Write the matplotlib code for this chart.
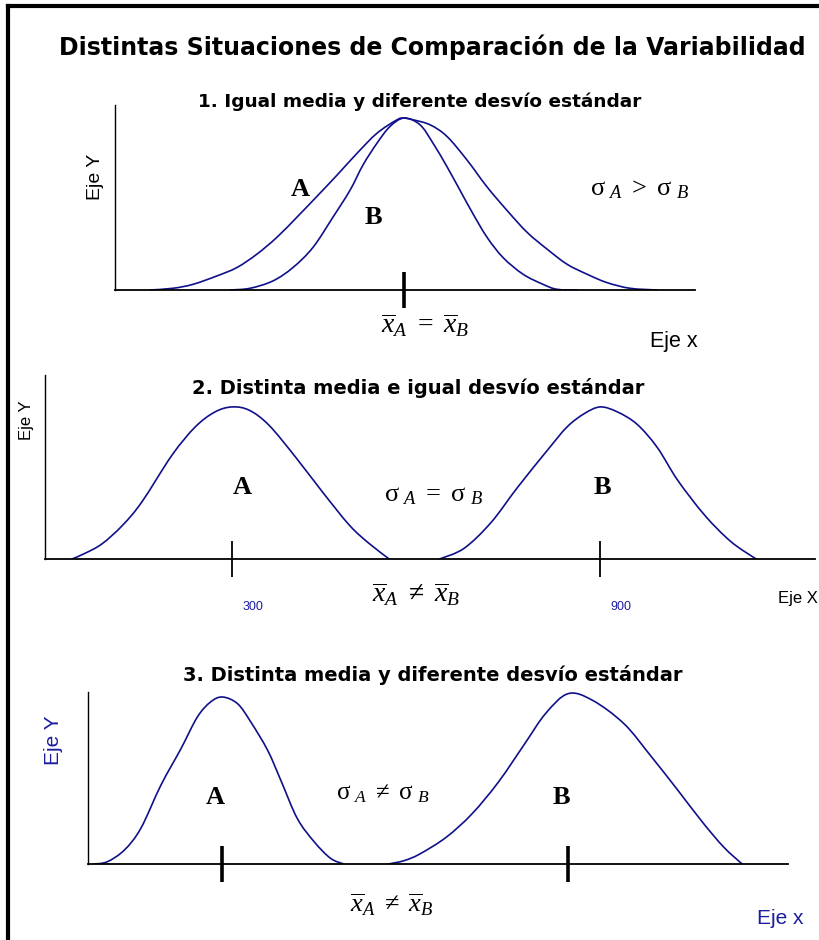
import matplotlib.pyplot as plt
from matplotlib.lines import Line2D
from matplotlib.path import Path
from matplotlib.patches import PathPatch
from matplotlib.transforms import ScaledTranslation

plt.rcParams['mathtext.fontset'] = 'custom'
plt.rcParams['mathtext.rm'] = 'Liberation Serif'
plt.rcParams['mathtext.it'] = 'Liberation Serif:italic'
plt.rcParams['mathtext.bf'] = 'Liberation Serif:bold'

W, H = 819, 940
NAVY = '#10108a'
BLUE = '#1c1ca0'

# 1. same mean, different spread
x1_a = [246, 269, 289, 313, 333, 353, 373, 393, 413, 433, 453, 473, 493, 500,
        509, 526, 543, 563, 583, 603, 623, 643, 663, 683, 703, 726, 753]
y1_a = [0.0, 0.01, 0.033, 0.082, 0.131, 0.209, 0.307, 0.424, 0.545, 0.668, 0.795,
        0.912, 0.99, 1.0, 0.99, 0.961, 0.893, 0.756, 0.6, 0.463, 0.336, 0.238,
        0.15, 0.092, 0.043, 0.01, 0.0]
x1_b = [326, 346, 369, 389, 409, 429, 446, 459, 473, 486, 500,
        516, 529, 543, 556, 569, 583, 599, 619, 639, 653, 673]
y1_b = [0.0, 0.01, 0.053, 0.131, 0.248, 0.424, 0.58, 0.727, 0.854, 0.951, 1.0,
        0.961, 0.854, 0.717, 0.58, 0.443, 0.307, 0.189, 0.092, 0.033, 0.004, 0.0]
mean1 = [500]

# 2. different mean, same spread
x2_a = [39, 60, 88, 121, 153, 202, 240, 272, 300, 328, 360, 403, 447, 491, 523, 556]
y2_a = [0.0, 0.037, 0.1, 0.22, 0.376, 0.683, 0.869, 0.967, 1.0, 0.978, 0.88,
        0.672, 0.442, 0.223, 0.103, 0.0]
x2_b = [638, 678, 722, 765, 814, 846, 874, 900, 928, 960, 993, 1026, 1070, 1113, 1154]
y2_b = [0.0, 0.07, 0.24, 0.47, 0.716, 0.869, 0.956, 1.0, 0.967, 0.886, 0.733,
        0.519, 0.289, 0.114, 0.0]
mean2 = [300, 900]
mean2_labels = ['300', '900']

# 3. different mean, different spread
x3_a = [46, 67, 94, 120, 152, 184, 210, 231, 250, 274, 295, 322, 343, 369, 396, 422, 443]
y3_a = [0.0, 0.014, 0.084, 0.213, 0.472, 0.691, 0.88, 0.97, 1.0, 0.96, 0.851,
        0.68, 0.5, 0.273, 0.133, 0.034, 0.0]
x3_b = [514, 539, 564, 606, 647, 689, 731, 764, 800, 839, 889, 931, 973, 1014, 1048, 1077]
y3_b = [0.0, 0.02, 0.06, 0.16, 0.3, 0.49, 0.72, 0.9, 1.02, 0.98, 0.84, 0.65,
        0.45, 0.25, 0.1, 0.0]
mean3 = [250, 800]

fig = plt.figure(figsize=(W / 100, H / 100), dpi=100)


def box(l, t, r, b):
    return [l / W, 1 - b / H, (r - l) / W, (b - t) / H]


def panel(rect, xlim, ylim, ticks, tick_w):
    ax = fig.add_axes(rect)
    ax.set_xlim(*xlim)
    ax.set_ylim(*ylim)
    ax.patch.set_alpha(0)
    for s in ('top', 'right'):
        ax.spines[s].set_visible(False)
    ax.spines['left'].set_linewidth(1.0)
    ax.spines['bottom'].set_linewidth(1.3)
    ax.set_yticks([])
    ax.set_xticks(ticks)
    ax.tick_params(axis='x', direction='inout', length=26, width=tick_w,
                   labelbottom=False)
    return ax


def bell(ax, xs, ys):
    # smooth curve through the points (Catmull-Rom as cubic Bezier segments)
    n = len(xs)
    verts = [(xs[0], ys[0])]
    codes = [Path.MOVETO]
    for i in range(n - 1):
        i0, i3 = max(i - 1, 0), min(i + 2, n - 1)
        c1 = (xs[i] + (xs[i + 1] - xs[i0]) / 6, ys[i] + (ys[i + 1] - ys[i0]) / 6)
        c2 = (xs[i + 1] - (xs[i3] - xs[i]) / 6, ys[i + 1] - (ys[i3] - ys[i]) / 6)
        verts += [c1, c2, (xs[i + 1], ys[i + 1])]
        codes += [Path.CURVE4] * 3
    ax.add_patch(PathPatch(Path(verts, codes), fill=False, edgecolor=NAVY,
                           lw=1.2, capstyle='round'))


def ftext(x, y, s, **kw):
    kw.setdefault('ha', 'center')
    kw.setdefault('va', 'center')
    fig.text(x / W, 1 - y / H, s, **kw)


SIG = r'$\mathrm{σ}\;_{A}\ %s\ \mathrm{σ}\;_{B}$'
XBAR = r'$\overline{x}_{A}\ %s\ \overline{x}_{B}$'

# frame lines on the top and left edge
fig.add_artist(Line2D([8 / W, 1], [1 - 6 / H, 1 - 6 / H], color='black', lw=3))
fig.add_artist(Line2D([8 / W, 8 / W], [0, 1 - 6 / H], color='black', lw=3))

ftext(432, 47, 'Distintas Situaciones de Comparación de la Variabilidad',
      fontsize=17, fontweight='bold', family='DejaVu Sans')

# panel 1
ax1 = panel(box(115, 105, 695, 290), (211, 791), (0, 1.076), mean1, 2.6)
bell(ax1, x1_a, y1_a)
bell(ax1, x1_b, y1_b)
ftext(420, 102, '1. Igual media y diferente desvío estándar',
      fontsize=13.3, fontweight='bold')
ftext(300, 189, 'A', fontsize=19, fontweight='bold', family='Liberation Serif')
ftext(373, 218, 'B', fontsize=19, fontweight='bold', family='Liberation Serif')
ftext(640, 188, SIG % '>', fontsize=19)
ftext(425, 325, XBAR % '=', fontsize=20)
ftext(674, 341, 'Eje x', fontsize=15.5, family='Liberation Sans')
ftext(95, 177, 'Eje Y', fontsize=14, family='Liberation Sans', rotation=90)

# panel 2
ax2 = panel(box(45, 375, 815, 559), (-5, 1250), (0, 1.21), mean2, 1.3)
bell(ax2, x2_a, y2_a)
bell(ax2, x2_b, y2_b)
ax2.set_xticks(mean2, mean2_labels)
ax2.tick_params(axis='x', labelbottom=True, labelsize=9, labelcolor=BLUE, pad=17)
for lab in ax2.get_xticklabels():
    lab.set_family('Liberation Sans')
    lab.set_transform(lab.get_transform() + ScaledTranslation(0.21, 0, fig.dpi_scale_trans))
ftext(418, 388, '2. Distinta media e igual desvío estándar',
      fontsize=14, fontweight='bold')
ftext(242, 487, 'A', fontsize=19, fontweight='bold', family='Liberation Serif')
ftext(602, 487, 'B', fontsize=19, fontweight='bold', family='Liberation Serif')
ftext(434, 494, SIG % '=', fontsize=19)
ftext(416, 594, XBAR % r'\neq', fontsize=20)
ftext(798, 599, 'Eje X', fontsize=12, family='Liberation Sans')
ftext(27, 420, 'Eje Y', fontsize=12, family='Liberation Sans', rotation=90)

# panel 3
ax3 = panel(box(88, 692, 788, 864), (36, 1150), (0, 1.03), mean3, 2.6)
bell(ax3, x3_a, y3_a)
bell(ax3, x3_b, y3_b)
ftext(433, 675, '3. Distinta media y diferente desvío estándar',
      fontsize=14, fontweight='bold')
ftext(215, 797, 'A', fontsize=19, fontweight='bold', family='Liberation Serif')
ftext(561, 797, 'B', fontsize=19, fontweight='bold', family='Liberation Serif')
ftext(383, 793, SIG % r'\neq', fontsize=18)
ftext(392, 905, XBAR % r'\neq', fontsize=19)
ftext(780, 919, 'Eje x', fontsize=15, family='Liberation Sans', color=BLUE)
ftext(53, 740, 'Eje Y', fontsize=15, family='Liberation Sans', color=BLUE, rotation=90)

fig.savefig('out.png', dpi=100)
